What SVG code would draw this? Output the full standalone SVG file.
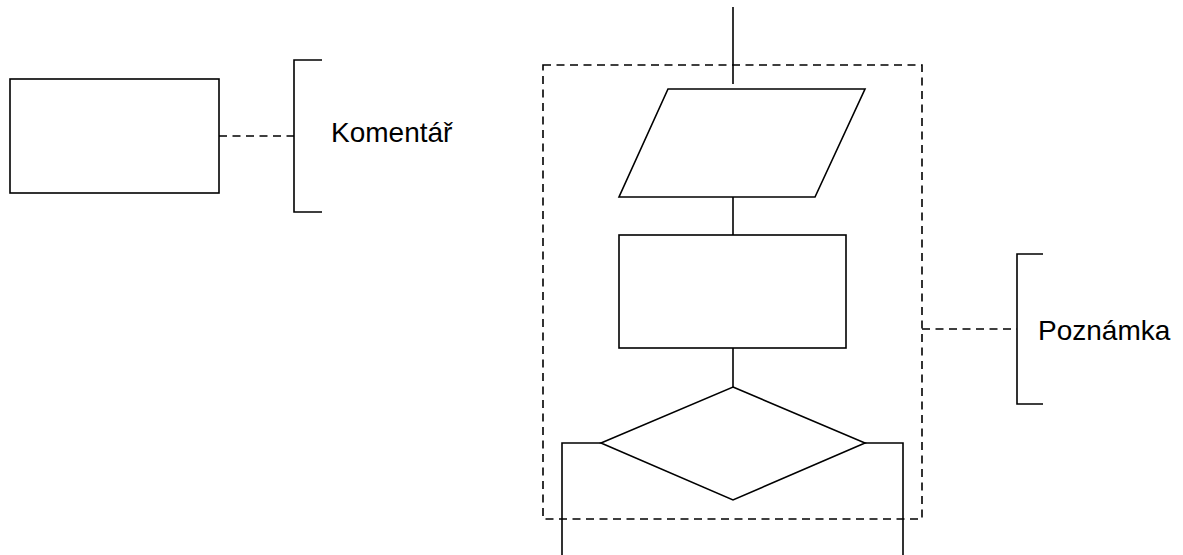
<svg xmlns="http://www.w3.org/2000/svg" width="1183" height="555" viewBox="0 0 1183 555">
  <style>
    .shape { fill: #ffffff; stroke: #000000; stroke-width: 1.6; }
    .line { fill: none; stroke: #000000; stroke-width: 1.6; }
    .dash { fill: none; stroke: #000000; stroke-width: 1.6; stroke-dasharray: 8 5.5; }
    .label { font-family: "Liberation Sans", Arial, sans-serif; font-size: 28px; fill: #000000; }
  </style>
  <rect x="0" y="0" width="1183" height="555" fill="#ffffff"/>

  <!-- connectors -->
  <g id="connectors">
    <line class="line" x1="733" y1="7" x2="733" y2="84"/>
    <line class="line" x1="733" y1="197" x2="733" y2="235"/>
    <line class="line" x1="733" y1="348" x2="733" y2="387"/>
    <polyline class="line" points="601,443 562,443 562,555"/>
    <polyline class="line" points="865,443 903,443 903,555"/>
    <line class="dash" x1="219" y1="136" x2="294" y2="136"/>
    <line class="dash" x1="922" y1="329" x2="1017" y2="329"/>
  </g>

  <!-- process box with comment -->
  <g id="process-left">
    <rect class="shape" x="10" y="79" width="209" height="114"/>
  </g>
  <g id="comment-bracket">
    <polyline class="line" points="322,60 294,60 294,212 322,212"/>
    <text class="label" x="331" y="142">Komentář</text>
  </g>

  <!-- grouped block -->
  <g id="group-frame">
    <rect class="dash" x="543" y="65" width="379" height="454"/>
  </g>
  <g id="data">
    <polygon class="shape" points="668,89 865,89 815,197 619,197"/>
  </g>
  <g id="process">
    <rect class="shape" x="619" y="235" width="227" height="113"/>
  </g>
  <g id="decision">
    <polygon class="shape" points="733,387 865,443 733,500 601,443"/>
  </g>

  <!-- annotation for the group -->
  <g id="note-bracket">
    <polyline class="line" points="1043,254 1017,254 1017,404 1043,404"/>
    <text class="label" x="1038" y="340">Poznámka</text>
  </g>
</svg>
